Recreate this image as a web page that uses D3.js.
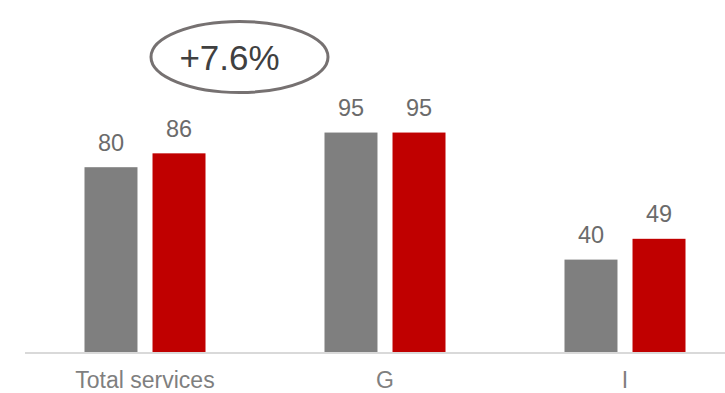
<!DOCTYPE html>
<html><head><meta charset="utf-8">
<script src="https://cdn.jsdelivr.net/npm/d3@7"></script>
<style>html,body{margin:0;padding:0;background:#fff;overflow:hidden}</style>
</head><body>
<svg id="c" width="725" height="393"></svg>
<script>
const categories = ["Total services", "G", "I"];
const series = ["Prior", "Current"];
const prior = [80, 95, 40];
const current = [86, 95, 49];
const growthLabel = "+7.6%";

const svg = d3.select("#c");
const font = "'Liberation Sans', Arial, sans-serif";
const colors = {Prior: "#7f7f7f", Current: "#c00000"};

const x0 = d3.scaleBand().domain(categories).range([25, 745]).padding(0);
const x1 = d3.scaleBand().domain(series).range([-60.5, 60.5]).paddingInner(0.221).paddingOuter(0);
const y = d3.scaleLinear().domain([0, 100]).range([352, 121]);

const rows = categories.map((c, i) => ({cat: c, vals: [{s: "Prior", v: prior[i]}, {s: "Current", v: current[i]}]}));

const g = svg.selectAll("g.grp").data(rows).join("g")
  .attr("transform", d => `translate(${x0(d.cat) + x0.bandwidth() / 2},0)`);

g.selectAll("rect").data(d => d.vals).join("rect")
  .attr("x", d => x1(d.s))
  .attr("width", x1.bandwidth())
  .attr("y", d => y(d.v))
  .attr("height", d => y(0) - y(d.v))
  .attr("fill", d => colors[d.s]);

g.selectAll("text.val").data(d => d.vals).join("text")
  .attr("class", "val")
  .attr("x", d => x1(d.s) + x1.bandwidth() / 2)
  .attr("y", d => y(d.v) - 16.5)
  .attr("text-anchor", "middle")
  .attr("font-family", font)
  .attr("font-size", 23.5)
  .attr("fill", "#6b6b6b")
  .text(d => d.v);

svg.append("line")
  .attr("x1", 25).attr("x2", 725)
  .attr("y1", y(0) + 1).attr("y2", y(0) + 1)
  .attr("stroke", "#d9d9d9").attr("stroke-width", 2);

svg.selectAll("text.cat").data(categories).join("text")
  .attr("class", "cat")
  .attr("x", d => x0(d) + x0.bandwidth() / 2)
  .attr("y", 388)
  .attr("text-anchor", "middle")
  .attr("font-family", font)
  .attr("font-size", 23)
  .attr("fill", "#7f7f7f")
  .text(d => d);

svg.append("ellipse")
  .attr("cx", 239.5).attr("cy", 57)
  .attr("rx", 88.5).attr("ry", 35.5)
  .attr("fill", "none").attr("stroke", "#767171").attr("stroke-width", 3);

svg.append("text")
  .attr("x", 229.5).attr("y", 70)
  .attr("text-anchor", "middle")
  .attr("font-family", font)
  .attr("font-size", 35)
  .attr("fill", "#404040")
  .text(growthLabel);
</script>
</body></html>
